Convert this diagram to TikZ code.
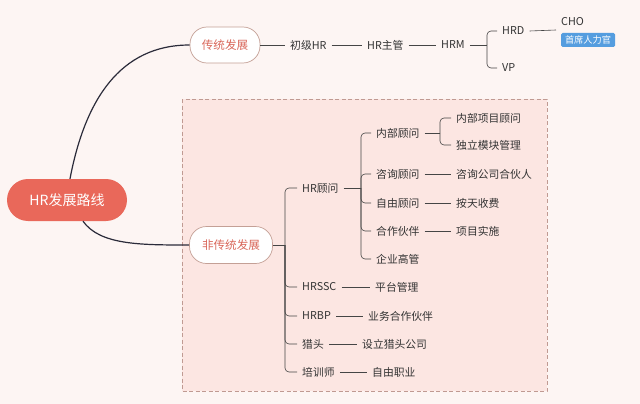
\documentclass[tikz,border=0pt]{standalone}
\usepackage{fontspec}
\setmainfont{Noto Sans CJK SC}
\usepackage{xcolor}
\usetikzlibrary{positioning}

\definecolor{bgpink}{HTML}{FDF5F3}
\definecolor{boxpink}{HTML}{FCE6E2}
\definecolor{boxedge}{HTML}{C09A92}
\definecolor{rootred}{HTML}{E9685A}
\definecolor{pilledge}{HTML}{C4A096}
\definecolor{pilltext}{HTML}{D9675A}
\definecolor{textgray}{HTML}{333333}
\definecolor{linegray}{HTML}{454545}
\definecolor{curvedark}{HTML}{2B2B3A}
\definecolor{tagblue}{HTML}{559DDF}

\begin{document}
\begin{tikzpicture}[x=1pt,y=-1pt,
  topic/.style={font=\fontsize{10.8}{12}\selectfont, text=textgray, inner xsep=5pt, inner ysep=2pt, anchor=west},
  pill/.style={draw=pilledge, fill=white, line width=0.7pt, rounded corners=17pt, text=pilltext, font=\fontsize{11.6}{13}\selectfont},
  link/.style={draw=linegray, line width=0.6pt},
  fork/.style={draw=linegray, line width=0.6pt, rounded corners=4pt},
  curve/.style={draw=curvedark, line width=1.2pt}]

% background and dashed group
\fill[bgpink] (0,0) rectangle (640,404);
\useasboundingbox (0,0) rectangle (640,404);
\draw[boxedge, fill=boxpink, line width=1pt, dash pattern=on 4pt off 2.5pt] (182,99) rectangle (547,391);

% main topics
\node[fill=rootred, rounded corners=21pt, minimum width=120pt, minimum height=42pt, text=white, font=\fontsize{14}{16}\selectfont] (root) at (67,200) {HR发展路线};
\node[pill, minimum width=70pt, minimum height=36pt] (trad) at (225,45) {传统发展};
\node[pill, minimum width=83pt, minimum height=37pt] (nontrad) at (231,245) {非传统发展};

\draw[curve] (root.north) ++(3,0) .. controls (85,100) and (120,45) .. (trad.west);
\draw[curve] (root.south) ++(16,0) .. controls (100,245) and (140,245) .. (nontrad.west);

% traditional line
\node[topic] (junior) at (285,45) {初级HR};
\node[topic] (hrlead) at (362,45) {HR主管};
\node[topic] (hrm) at (436,45) {HRM};
\node[topic] (hrd) at (497,31) {HRD};
\node[topic] (vp) at (497,68) {VP};
\node[topic] (cho) at (556,22) {CHO};
\node[fill=tagblue, rounded corners=1.5pt, text=white, font=\fontsize{9.2}{10}\selectfont, minimum width=54pt, minimum height=14pt, inner sep=0pt] (chief) at (588,40) {首席人力官};
\coordinate (choin) at (556,30);
\coordinate (hrmfork) at (487,45);

\draw[link] (trad.east) -- (junior.west);
\draw[link] (junior.east) -- (hrlead.west);
\draw[link] (hrlead.east) -- (hrm.west);
\draw[link] (hrm.east) -- (hrmfork);
\draw[fork] (hrmfork) |- (hrd.west);
\draw[fork] (hrmfork) |- (vp.west);
\draw[link] (hrd.east) -- (choin);

% non-traditional line
\node[topic] (consult) at (297,188) {HR顾问};
\node[topic] (ssc) at (297,287) {HRSSC};
\node[topic] (bp) at (297,316) {HRBP};
\node[topic] (hunter) at (297,344) {猎头};
\node[topic] (trainer) at (297,372) {培训师};
\coordinate (nontradfork) at (285,245);

\draw[link] (nontrad.east) -- (nontradfork);
\draw[fork] (nontradfork) |- (consult.west);
\draw[fork] (nontradfork) |- (ssc.west);
\draw[fork] (nontradfork) |- (bp.west);
\draw[fork] (nontradfork) |- (hunter.west);
\draw[fork] (nontradfork) |- (trainer.west);

% HR consultant branch
\node[topic] (inner) at (371,133) {内部顾问};
\node[topic] (advisory) at (371,174) {咨询顾问};
\node[topic] (freelance) at (371,203) {自由顾问};
\node[topic] (partner) at (371,231) {合作伙伴};
\node[topic] (exec) at (371,259) {企业高管};
\coordinate (consultfork) at (361,188);

\draw[link] (consult.east) -- (consultfork);
\draw[fork] (consultfork) |- (inner.west);
\draw[fork] (consultfork) |- (advisory.west);
\draw[fork] (consultfork) |- (freelance.west);
\draw[fork] (consultfork) |- (partner.west);
\draw[fork] (consultfork) |- (exec.west);

\node[topic] (innerproj) at (451,118) {内部项目顾问};
\node[topic] (module) at (451,145) {独立模块管理};
\node[topic] (firmpartner) at (451,174) {咨询公司合伙人};
\node[topic] (daily) at (451,203) {按天收费};
\node[topic] (project) at (451,231) {项目实施};
\coordinate (innerfork) at (440,133);

\draw[link] (inner.east) -- (innerfork);
\draw[fork] (innerfork) |- (innerproj.west);
\draw[fork] (innerfork) |- (module.west);
\draw[link] (advisory.east) -- (firmpartner.west);
\draw[link] (freelance.east) -- (daily.west);
\draw[link] (partner.east) -- (project.west);

% leaves of the other branches
\node[topic] (platform) at (370,287) {平台管理};
\node[topic] (bizpartner) at (363,316) {业务合作伙伴};
\node[topic] (hunterfirm) at (357,344) {设立猎头公司};
\node[topic] (freejob) at (367,372) {自由职业};

\draw[link] (ssc.east) -- (platform.west);
\draw[link] (bp.east) -- (bizpartner.west);
\draw[link] (hunter.east) -- (hunterfirm.west);
\draw[link] (trainer.east) -- (freejob.west);

\end{tikzpicture}
\end{document}
